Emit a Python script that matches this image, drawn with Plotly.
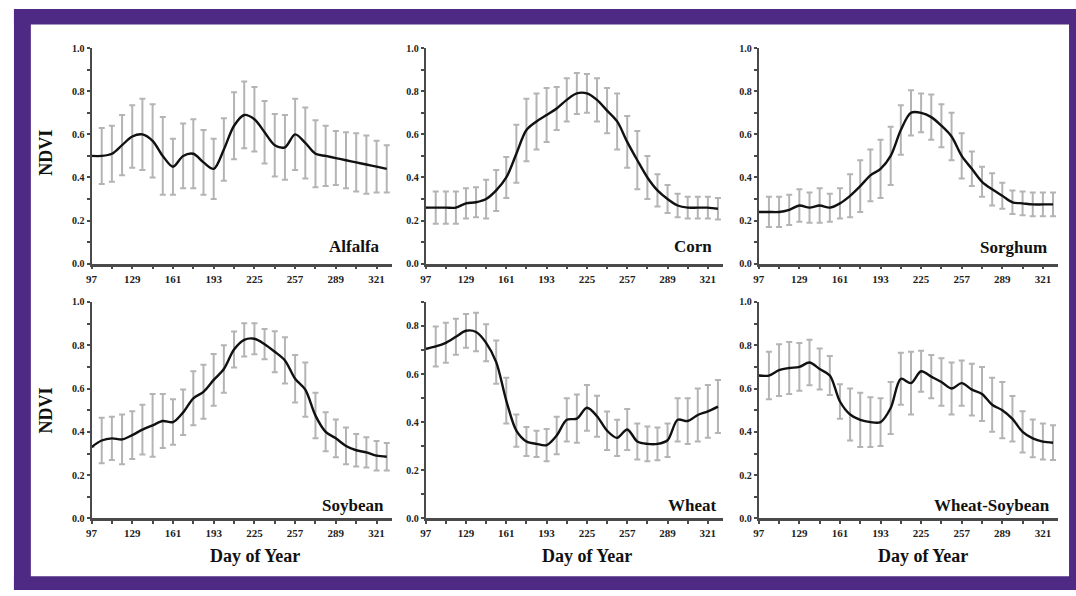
import plotly.graph_objects as go

# ---------------- data ----------------
days = [97, 105, 113, 121, 129, 137, 145, 153, 161, 169, 177, 185, 193, 201, 209,
        217, 225, 233, 241, 249, 257, 265, 273, 281, 289, 297, 305, 313, 321, 329]
x_tick_vals = [97, 129, 161, 193, 225, 257, 289, 321]
y_tick_vals = [0.0, 0.2, 0.4, 0.6, 0.8, 1.0]
crop_names = ["Alfalfa", "Corn", "Sorghum", "Soybean", "Wheat", "Wheat-Soybean"]

alfalfa_mean = [0.50, 0.50, 0.51, 0.55, 0.59, 0.60, 0.57, 0.50, 0.45, 0.50, 0.51, 0.47, 0.44, 0.53, 0.64,
                0.69, 0.67, 0.61, 0.55, 0.54, 0.60, 0.56, 0.51, 0.50, 0.49, 0.48, 0.47, 0.46, 0.45, 0.44]
alfalfa_sd = [None, 0.13, 0.13, 0.14, 0.145, 0.165, 0.17, 0.18, 0.13, 0.15, 0.16, 0.15, 0.14, 0.145, 0.155,
              0.155, 0.15, 0.145, 0.145, 0.15, 0.165, 0.165, 0.155, 0.14, 0.125, 0.13, 0.135, 0.135, 0.12, 0.11]

corn_mean = [0.26, 0.26, 0.26, 0.26, 0.28, 0.285, 0.30, 0.34, 0.40, 0.51, 0.62, 0.66, 0.69, 0.72, 0.76,
             0.79, 0.79, 0.76, 0.71, 0.66, 0.565, 0.48, 0.40, 0.34, 0.30, 0.27, 0.26, 0.26, 0.26, 0.255]
corn_sd = [None, 0.075, 0.075, 0.075, 0.07, 0.07, 0.09, 0.095, 0.095, 0.135, 0.145, 0.13, 0.125, 0.10, 0.10,
           0.095, 0.09, 0.10, 0.105, 0.13, 0.12, 0.135, 0.10, 0.075, 0.065, 0.055, 0.05, 0.05, 0.05, 0.05]

sorghum_mean = [0.24, 0.24, 0.24, 0.25, 0.27, 0.26, 0.27, 0.26, 0.28, 0.315, 0.36, 0.41, 0.44, 0.50, 0.62,
                0.70, 0.70, 0.68, 0.64, 0.59, 0.50, 0.44, 0.38, 0.345, 0.315, 0.285, 0.28, 0.275, 0.275, 0.275]
sorghum_sd = [None, 0.07, 0.07, 0.07, 0.075, 0.07, 0.08, 0.065, 0.07, 0.10, 0.12, 0.12, 0.135, 0.135, 0.115,
              0.105, 0.09, 0.105, 0.10, 0.11, 0.105, 0.08, 0.07, 0.075, 0.06, 0.055, 0.055, 0.055, 0.055, 0.055]

soybean_mean = [0.33, 0.36, 0.37, 0.365, 0.385, 0.41, 0.43, 0.45, 0.445, 0.49, 0.555, 0.585, 0.64, 0.69, 0.78,
                0.825, 0.83, 0.805, 0.77, 0.73, 0.645, 0.595, 0.475, 0.40, 0.37, 0.335, 0.315, 0.305, 0.29, 0.285]
soybean_sd = [None, 0.105, 0.10, 0.115, 0.11, 0.115, 0.145, 0.125, 0.105, 0.105, 0.125, 0.125, 0.12, 0.11, 0.083,
              0.077, 0.072, 0.07, 0.095, 0.107, 0.11, 0.125, 0.105, 0.09, 0.087, 0.085, 0.075, 0.07, 0.068, 0.063]

wheat_mean = [0.705, 0.715, 0.73, 0.755, 0.78, 0.775, 0.73, 0.65, 0.49, 0.365, 0.32, 0.31, 0.305, 0.345, 0.41,
              0.415, 0.46, 0.425, 0.365, 0.335, 0.37, 0.32, 0.31, 0.31, 0.325, 0.41, 0.405, 0.43, 0.445, 0.465]
wheat_sd = [None, 0.083, 0.083, 0.075, 0.07, 0.08, 0.077, 0.09, 0.095, 0.067, 0.06, 0.055, 0.067, 0.078, 0.09,
            0.10, 0.095, 0.085, 0.08, 0.075, 0.085, 0.075, 0.072, 0.068, 0.07, 0.09, 0.095, 0.11, 0.11, 0.11]

wheat_soy_mean = [0.66, 0.66, 0.685, 0.695, 0.70, 0.72, 0.69, 0.66, 0.54, 0.48, 0.455, 0.445, 0.445, 0.51, 0.645,
                  0.625, 0.68, 0.655, 0.63, 0.60, 0.625, 0.595, 0.575, 0.525, 0.50, 0.46, 0.40, 0.37, 0.355, 0.35]
wheat_soy_sd = [None, 0.11, 0.12, 0.12, 0.11, 0.105, 0.095, 0.09, 0.08, 0.12, 0.125, 0.115, 0.11, 0.12, 0.12,
                0.145, 0.095, 0.10, 0.11, 0.12, 0.105, 0.12, 0.125, 0.125, 0.13, 0.105, 0.095, 0.087, 0.083, 0.08]

means = [alfalfa_mean, corn_mean, sorghum_mean, soybean_mean, wheat_mean, wheat_soy_mean]
sds = [alfalfa_sd, corn_sd, sorghum_sd, soybean_sd, wheat_sd, wheat_soy_sd]
y_max = [1.0, 1.0, 1.0, 1.0, 0.9, 1.0]

# ---------------- layout helpers (pixel geometry) ----------------
W, H = 1076, 596
def fx(px):
    return px / W
def fy(py):
    return 1 - py / H

col_px = [(86, 388), (422, 721), (757, 1058)]
row_px = [(43, 263), (302, 523)]

FONT = "Liberation Serif, Times New Roman, serif"
AXIS_COL = "#4a4a4a"

fig = go.Figure()
layout_axes = {}
annotations = []

label_right_px = [378, 712, 1049, 382, 717, 1052]
label_y_px = [245, 245, 246, 510, 510, 510]
doy_center_px = [250, 584, 922]

for i in range(6):
    r, c = divmod(i, 3)
    n = i + 1
    xa = "x" if n == 1 else f"x{n}"
    ya = "y" if n == 1 else f"y{n}"
    fig.add_trace(go.Scatter(
        x=days, y=means[i], mode="lines", xaxis=xa, yaxis=ya,
        line=dict(color="#111111", width=2.4, shape="spline", smoothing=0.9),
        error_y=dict(type="data", array=sds[i], visible=True,
                     color="#b4b4b4", thickness=2, width=3),
        showlegend=False, hoverinfo="skip",
    ))
    x0, x1 = col_px[c]
    y0, y1 = row_px[r]
    yticks = [v for v in y_tick_vals if v <= y_max[i] + 1e-9]
    layout_axes["xaxis" if n == 1 else f"xaxis{n}"] = dict(
        domain=[fx(x0), fx(x1)], anchor=ya, range=[97, 333],
        showline=True, linecolor=AXIS_COL, linewidth=2.5, showgrid=False, zeroline=False,
        tickmode="array", tickvals=x_tick_vals, ticktext=[str(v) for v in x_tick_vals],
        ticks="outside", ticklen=3, tickwidth=2, tickcolor=AXIS_COL,
        minor=dict(tickmode="linear", tick0=97, dtick=16, ticks="outside",
                   ticklen=3, tickwidth=2, tickcolor=AXIS_COL),
        tickfont=dict(family=FONT, size=11, color="#222", weight="bold"),
        fixedrange=True,
    )
    layout_axes["yaxis" if n == 1 else f"yaxis{n}"] = dict(
        domain=[fy(y1), fy(y0)], anchor=xa, range=[0, y_max[i]],
        showline=True, linecolor=AXIS_COL, linewidth=2, showgrid=False, zeroline=False,
        tickmode="array", tickvals=yticks, ticktext=[f"{v:.1f}" for v in yticks],
        ticks="outside", ticklen=3, tickwidth=2, tickcolor=AXIS_COL,
        minor=dict(tickmode="linear", tick0=0, dtick=0.1, ticks="outside",
                   ticklen=3, tickwidth=2, tickcolor=AXIS_COL),
        tickfont=dict(family=FONT, size=10, color="#222", weight="bold"),
        fixedrange=True,
    )
    annotations.append(dict(
        text=crop_names[i], xref="paper", yref="paper",
        x=fx(label_right_px[i]), y=fy(label_y_px[i]), xanchor="right", yanchor="middle",
        showarrow=False, font=dict(family=FONT, size=17, color="#111", weight="bold"),
    ))

for r, ypx in enumerate([150, 413]):
    annotations.append(dict(
        text="NDVI", xref="paper", yref="paper", x=fx(40), y=fy(ypx),
        xanchor="center", yanchor="middle", textangle=-90, showarrow=False,
        font=dict(family=FONT, size=18, color="#111", weight="bold"),
    ))
for cx in doy_center_px:
    annotations.append(dict(
        text="Day of Year", xref="paper", yref="paper", x=fx(cx), y=fy(561),
        xanchor="center", yanchor="middle", showarrow=False,
        font=dict(family=FONT, size=18, color="#111", weight="bold"),
    ))

PURPLE = "#4e2a84"
frame = [
    (8, 3, 1076, 19),      # top band
    (8, 3, 25, 596),       # left band
    (1069, 3, 1076, 596),  # right band
    (8, 582, 1076, 596),   # bottom band
]
shapes = [dict(type="rect", xref="paper", yref="paper",
               x0=fx(a), x1=fx(b), y0=fy(d), y1=fy(c),
               fillcolor=PURPLE, line=dict(width=0), layer="above")
          for (a, c, b, d) in frame]

fig.update_layout(
    width=W, height=H, margin=dict(l=0, r=0, t=0, b=0),
    paper_bgcolor="white", plot_bgcolor="rgba(0,0,0,0)",
    annotations=annotations, shapes=shapes, showlegend=False,
    **layout_axes,
)

fig.write_html("out.html", config={"displayModeBar": False})
